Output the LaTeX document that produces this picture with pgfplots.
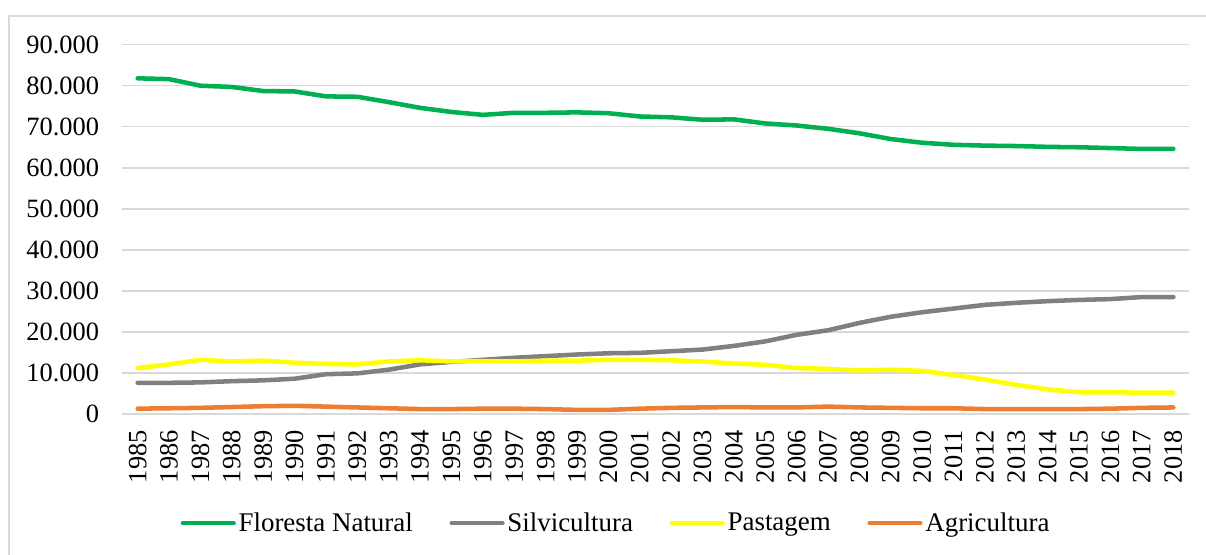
\documentclass[border=0pt]{standalone}
\usepackage{fontspec}
\setmainfont{Liberation Serif}
\usepackage{pgfplots}
\pgfplotsset{compat=1.18}
\usepackage{pgfplotstable}

\definecolor{cflor}{HTML}{00B050}
\definecolor{csilv}{HTML}{808080}
\definecolor{cpast}{HTML}{FFFF00}
\definecolor{cagri}{HTML}{ED7D31}
\definecolor{cgrid}{HTML}{D9D9D9}

% ano, floresta natural, silvicultura, pastagem, agricultura
\pgfplotstableread{
ano  flor   silv   past   agri
1985 81800  7600   11200  1300
1986 81600  7600   12100  1400
1987 80000  7700   13200  1500
1988 79700  8000   12800  1700
1989 78700  8200   13000  1900
1990 78600  8600   12500  2000
1991 77400  9700   12200  1800
1992 77300  9900   12100  1600
1993 76000  10800  12800  1400
1994 74600  12100  13100  1200
1995 73600  12700  12800  1200
1996 72900  13200  12900  1300
1997 73400  13700  12800  1300
1998 73400  14100  13000  1200
1999 73500  14500  13000  1000
2000 73300  14800  13200  1000
2001 72500  14900  13200  1300
2002 72300  15300  13100  1500
2003 71700  15700  12800  1600
2004 71800  16600  12300  1700
2005 70800  17700  12000  1600
2006 70300  19300  11200  1600
2007 69500  20400  11000  1800
2008 68400  22200  10600  1600
2009 67000  23700  10800  1500
2010 66100  24800  10500  1400
2011 65600  25700  9500   1400
2012 65400  26600  8400   1200
2013 65300  27100  7100   1200
2014 65100  27500  6000   1200
2015 65000  27800  5300   1200
2016 64800  28000  5300   1300
2017 64600  28500  5200   1500
2018 64600  28500  5200   1600
}\dados

\begin{document}
\begin{tikzpicture}
\path[use as bounding box] (-91.5pt,-105pt) rectangle (813pt,310.5pt);
\clip (-91.5pt,-105pt) rectangle (813pt,310.5pt);
\draw[cgrid, line width=1pt] (-84.75pt,-130pt) rectangle (840pt,298.5pt);
\begin{axis}[
  at={(0pt,0pt)}, anchor=south west,
  scale only axis, width=800.25pt, height=277pt,
  xmin=1984.5, xmax=2018.5, ymin=0, ymax=90000,
  axis line style={draw=none},
  xtick={1985,...,2018},
  ytick={0,10000,...,90000},
  major tick length=0pt,
  ymajorgrids, grid style={cgrid, line width=1.1pt},
  scaled y ticks=false,
  /pgf/number format/.cd, 1000 sep={.}, fixed, assume math mode=true,
  /pgfplots/.cd,
  tick label style={font=\fontsize{19.8}{23}\selectfont, inner sep=0pt},
  xticklabel style={rotate=90, anchor=east},
  xticklabel={\pgfmathprintnumber[1000 sep={}]{\tick}},
  xticklabel shift=12pt,
  yticklabel shift=17pt,
  legend columns=4,
  legend style={at={(0.4634,-0.2954)}, anchor=center, draw=none, fill=none,
    font=\fontsize{20.2}{23}\selectfont, nodes={inner sep=2pt},
    /tikz/every even column/.append style={column sep=25.5pt}},
  legend image code/.code={\draw[#1] (0pt,0pt) -- (38pt,0pt);},
  every axis plot/.append style={line width=3.4pt, line cap=round, line join=round, mark=none},
]
\addplot[cflor] table[x=ano, y=flor] {\dados};
\addplot[csilv] table[x=ano, y=silv] {\dados};
\addplot[cpast] table[x=ano, y=past] {\dados};
\addplot[cagri] table[x=ano, y=agri] {\dados};
\legend{Floresta Natural, Silvicultura, Pastagem, Agricultura}
\end{axis}
\end{tikzpicture}
\end{document}
